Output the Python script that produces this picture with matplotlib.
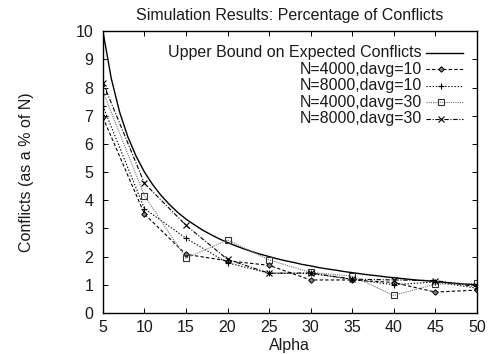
import matplotlib
matplotlib.use("Agg")
import matplotlib.pyplot as plt

plt.rcParams["font.family"] = ["Liberation Sans", "DejaVu Sans"]

# sampled values of the upper bound curve
bound_alpha = list(range(5, 51))
bound_vals = [10.0, 8.33, 7.14, 6.25, 5.56, 5.0, 4.55, 4.17, 3.85, 3.57,
              3.33, 3.13, 2.94, 2.78, 2.63, 2.5, 2.38, 2.27, 2.17, 2.08,
              2.0, 1.92, 1.85, 1.79, 1.72, 1.67, 1.61, 1.56, 1.52, 1.47,
              1.43, 1.39, 1.35, 1.32, 1.28, 1.25, 1.22, 1.19, 1.16, 1.14,
              1.11, 1.09, 1.06, 1.04, 1.02, 1.0]

alpha = [5, 10, 15, 20, 25, 30, 35, 40, 45, 50]
n4000_d10 = [6.94, 3.51, 2.08, 1.85, 1.69, 1.17, 1.17, 1.08, 0.74, 0.81]
n8000_d10 = [7.34, 3.70, 2.65, 1.78, 1.41, 1.40, 1.19, 1.00, 1.10, 0.88]
n4000_d30 = [7.87, 4.16, 1.94, 2.59, 1.88, 1.44, 1.31, 0.62, 1.02, 1.05]
n8000_d30 = [8.17, 4.60, 3.11, 1.90, 1.41, 1.42, 1.20, 1.17, 1.15, 0.93]

labels = ["Upper Bound on Expected Conflicts", "N=4000,davg=10", "N=8000,davg=10",
          "N=4000,davg=30", "N=8000,davg=30"]

FS = 11.5
TXT = "0.1"

fig = plt.figure(figsize=(4.9, 3.54), dpi=100)
ax = fig.add_axes([0.210, 0.116, 0.763, 0.796])

styles = [
    dict(color="black", linestyle="-", linewidth=1.0, marker=None),
    dict(color="black", linestyle=(0, (3, 2)), linewidth=0.8, marker="D",
         markersize=2.8, markerfacecolor="0.5", markeredgewidth=0.7),
    dict(color="black", linestyle=(0, (1.2, 1.6)), linewidth=0.8, marker="+",
         markersize=4.5, markeredgewidth=0.8),
    dict(color="0.45", linestyle=(0, (1, 1)), linewidth=0.8, marker="s",
         markersize=4.5, markerfacecolor="none", markeredgecolor="0.2",
         markeredgewidth=0.8),
    dict(color="black", linestyle=(0, (4, 1.5, 1, 1.5)), linewidth=0.8, marker="x",
         markersize=4.5, markeredgewidth=0.8),
]

series = [(bound_alpha, bound_vals), (alpha, n4000_d10), (alpha, n8000_d10),
          (alpha, n4000_d30), (alpha, n8000_d30)]

for (xs, ys), st in zip(series, styles):
    ax.plot(xs, ys, **st)

# legend drawn by hand so labels are right aligned like gnuplot
row_y0 = 0.923
row_dy = 0.0585
for i, (lab, st) in enumerate(zip(labels, styles)):
    yy = row_y0 - i * row_dy
    ax.text(0.853, yy, lab, transform=ax.transAxes, ha="right", va="center",
            fontsize=FS, color=TXT)
    line_st = dict(st)
    line_st["marker"] = None
    ax.plot([0.864, 0.963], [yy, yy], transform=ax.transAxes, **line_st)
    if st["marker"] is not None:
        mk_st = {k: v for k, v in st.items() if k != "linestyle"}
        ax.plot([0.903], [yy], transform=ax.transAxes, linestyle="none", **mk_st)

ax.set_xlim(5, 50)
ax.set_ylim(0, 10)
ax.set_xticks(range(5, 51, 5))
ax.set_yticks(range(0, 11))
ax.tick_params(direction="in", length=3.5, width=0.7, top=True, right=True,
               labelsize=FS, labelcolor=TXT)
ax.tick_params(axis="y", pad=7)
ax.tick_params(axis="x", pad=5)
for sp in ax.spines.values():
    sp.set_linewidth(1.0)

ax.set_title("Simulation Results: Percentage of Conflicts", fontsize=FS, pad=8,
             color=TXT)
ax.set_xlabel("Alpha", fontsize=FS, labelpad=2, color=TXT)
ax.set_ylabel("Conflicts (as a % of N)", fontsize=FS, labelpad=30, color=TXT)

fig.savefig("out.png", dpi=100)
